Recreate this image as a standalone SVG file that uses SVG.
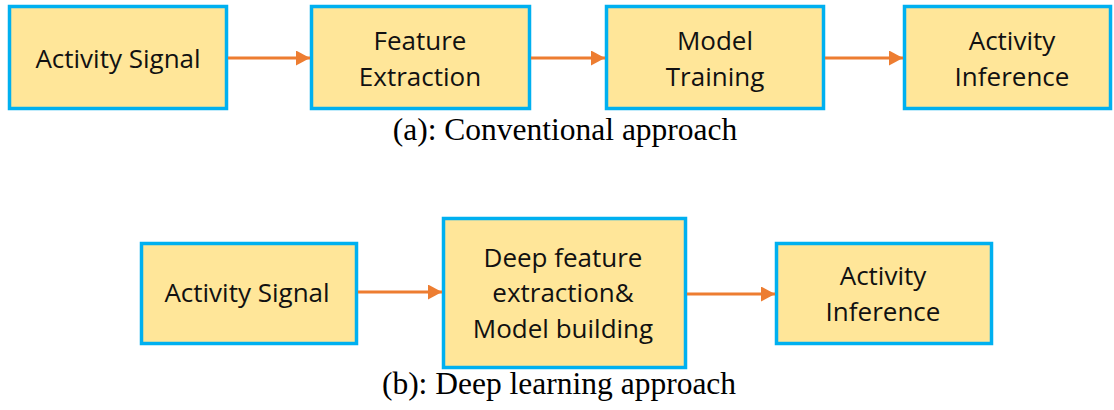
<svg xmlns="http://www.w3.org/2000/svg" width="1114" height="410" viewBox="0 0 1114 410">
  <style>
    .box { fill: #FFE699; stroke: #00B0F0; stroke-width: 3.5; }
    .lbl { font-family: "Open Sans", "Noto Sans", sans-serif; font-size: 26px; fill: #111111; text-anchor: middle; }
    .cap { font-family: "Liberation Serif", "Times New Roman", serif; font-size: 31.5px; fill: #000; text-anchor: middle; }
    .conn { stroke: #ED7D31; stroke-width: 3.2; fill: none; }
  </style>
  <defs>
    <marker id="ah" markerUnits="userSpaceOnUse" markerWidth="15" markerHeight="16" refX="14" refY="7.5" orient="auto">
      <path d="M0,0 L14,7.5 L0,15 z" fill="#ED7D31"/>
    </marker>
  </defs>
  <rect width="1114" height="410" fill="#ffffff"/>

  <g id="n1">
    <rect class="box" x="9.5" y="6.5" width="217" height="102"/>
    <text class="lbl" x="118" y="68">Activity Signal</text>
  </g>
  <g id="n2">
    <rect class="box" x="311.5" y="6.5" width="218" height="102"/>
    <text class="lbl" x="420" y="50">Feature</text>
    <text class="lbl" x="420" y="86">Extraction</text>
  </g>
  <g id="n3">
    <rect class="box" x="606.5" y="6.5" width="217" height="102"/>
    <text class="lbl" x="715" y="50">Model</text>
    <text class="lbl" x="715" y="86">Training</text>
  </g>
  <g id="n4">
    <rect class="box" x="904.5" y="6.5" width="206" height="102"/>
    <text class="lbl" x="1012" y="50">Activity</text>
    <text class="lbl" x="1012" y="86">Inference</text>
  </g>
  <text class="cap" x="565" y="140">(a): Conventional approach</text>

  <g id="n5">
    <rect class="box" x="141.5" y="243.5" width="215" height="100"/>
    <text class="lbl" x="247" y="302">Activity Signal</text>
  </g>
  <g id="n6">
    <rect class="box" x="443.5" y="218.5" width="242" height="149"/>
    <text class="lbl" x="563" y="267">Deep feature</text>
    <text class="lbl" x="563" y="302">extraction&amp;</text>
    <text class="lbl" x="563" y="338">Model building</text>
  </g>
  <g id="n7">
    <rect class="box" x="776.5" y="243.5" width="215" height="100"/>
    <text class="lbl" x="883" y="285">Activity</text>
    <text class="lbl" x="883" y="321">Inference</text>
  </g>
  <text class="cap" x="559" y="394">(b): Deep learning approach</text>

  <g id="connectors">
    <line class="conn" x1="228" y1="58" x2="310" y2="58" marker-end="url(#ah)"/>
    <line class="conn" x1="531" y1="58" x2="605" y2="58" marker-end="url(#ah)"/>
    <line class="conn" x1="825" y1="58" x2="903" y2="58" marker-end="url(#ah)"/>
    <line class="conn" x1="358" y1="292" x2="442" y2="292" marker-end="url(#ah)"/>
    <line class="conn" x1="687" y1="294" x2="775" y2="294" marker-end="url(#ah)"/>
  </g>
</svg>
